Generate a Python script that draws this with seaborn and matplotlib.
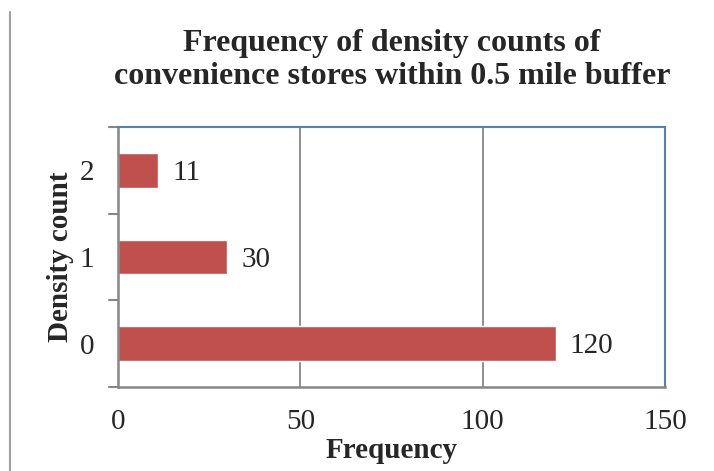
import matplotlib
matplotlib.use("Agg")
import matplotlib.pyplot as plt
import matplotlib.lines as mlines
import seaborn as sns
import pandas as pd

# Frequency table of density counts
density_counts = ["0", "1", "2"]
frequencies = [120, 30, 11]
x_ticks = [0, 50, 100, 150]

sns.set_theme(style="white")
plt.rcParams["font.family"] = ["Liberation Serif", "DejaVu Serif"]

df = pd.DataFrame({"Density count": density_counts, "Frequency": frequencies})
order = density_counts[::-1]  # draw "2" at the top, "0" at the bottom

fig = plt.figure(figsize=(7.14, 4.71), dpi=100)
ax = fig.add_axes([0.1653, 0.1783, 0.766, 0.552])

sns.barplot(data=df, y="Density count", x="Frequency", order=order,
            color="#C0504D", saturation=1, width=0.4, orient="h", ax=ax)

ax.set_xlim(0, 150)
ax.set_xticks(x_ticks)
ax.set_xticklabels([str(t) for t in x_ticks], fontsize=21)
ax.set_ylim(2.5, -0.5)
ax.set_yticks([0, 1, 2])
ax.set_yticklabels(order, fontsize=21)
ax.tick_params(axis="y", length=0, pad=17)
ax.tick_params(axis="x", length=8, width=1.5, color="#868686", direction="out", pad=8)

# Category boundary ticks on the vertical axis
for b in [-0.5, 0.5, 1.5, 2.5]:
    ax.plot([-0.016, 0], [b, b], transform=ax.get_yaxis_transform(),
            color="#868686", lw=1.5, clip_on=False)

ax.grid(axis="x", color="#868686", lw=1.3)
ax.set_axisbelow(True)

for side in ["left", "bottom"]:
    ax.spines[side].set_color("#868686")
    ax.spines[side].set_linewidth(1.8)
for side in ["top", "right"]:
    ax.spines[side].set_color("#4F81BD")
    ax.spines[side].set_linewidth(1.5)

for patch, val in zip(ax.patches, [frequencies[density_counts.index(c)] for c in order]):
    y = patch.get_y() + patch.get_height() / 2
    ax.annotate(str(val), xy=(patch.get_width(), y), xytext=(10, -2),
                textcoords="offset points", ha="left", va="center", fontsize=21)

ax.set_xlabel("Frequency", fontsize=21, fontweight="bold", labelpad=1)
ax.set_ylabel("Density count", fontsize=21, fontweight="bold", labelpad=4)

fig.text(0.549, 0.872, "Frequency of density counts of\nconvenience stores within 0.5 mile buffer",
         ha="center", va="center", fontsize=23, fontweight="bold", linespacing=1.17)

# Page margin line at the left edge
fig.add_artist(mlines.Line2D([0.014, 0.014], [0, 0.975], color="#A0A0A0", lw=1.5))

fig.savefig("out.png", dpi=100)
